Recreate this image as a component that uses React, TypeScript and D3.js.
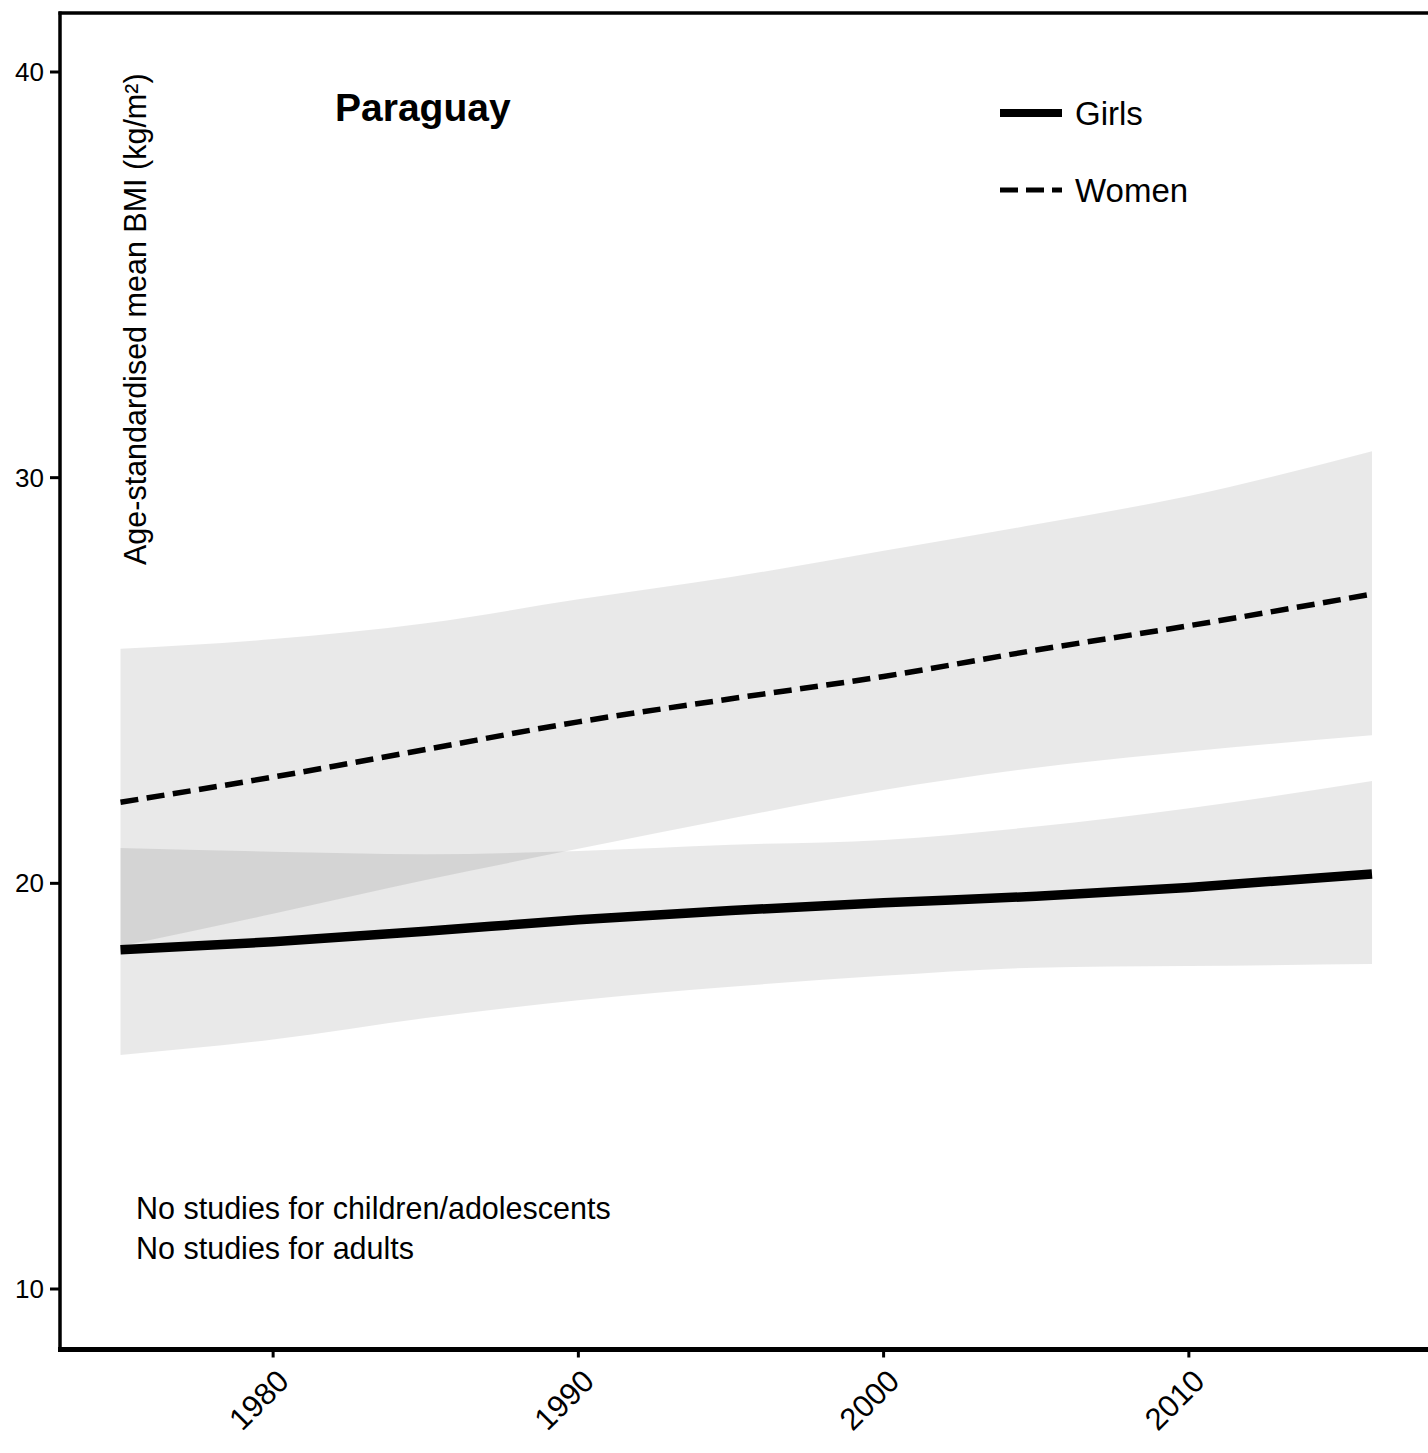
import React from "react";
import * as d3 from "d3";

const years = [1975, 1980, 1985, 1990, 1995, 2000, 2005, 2010, 2016];
const womenMean = [22.0, 22.62, 23.3, 23.98, 24.55, 25.1, 25.75, 26.35, 27.13];
const womenUpper = [25.78, 26.02, 26.41, 27.0, 27.55, 28.2, 28.85, 29.55, 30.65];
const womenLower = [18.45, 19.25, 20.08, 20.85, 21.6, 22.3, 22.85, 23.25, 23.65];
const girlsMean = [18.36, 18.56, 18.82, 19.1, 19.33, 19.52, 19.68, 19.9, 20.23];
const girlsUpper = [20.87, 20.78, 20.72, 20.8, 20.95, 21.07, 21.4, 21.85, 22.52];
const girlsLower = [15.77, 16.15, 16.68, 17.12, 17.45, 17.72, 17.92, 17.96, 18.01];
const yTicks = [10, 20, 30, 40];
const xTicks = [1980, 1990, 2000, 2010];
const notes = ["No studies for children/adolescents", "No studies for adults"];
const title = "Paraguay";
const yLabel = "Age-standardised mean BMI (kg/m²)";
const legendItems = [
  { label: "Girls", dash: "none", width: 8 },
  { label: "Women", dash: "18,8", width: 5 },
];

const W = 1428;
const H = 1453;
const FONT = "'Liberation Sans', Arial, Helvetica, sans-serif";

export default function App() {
  const x = d3.scaleLinear().domain([1975, 2016]).range([120.5, 1372]);
  const y = d3.scaleLinear().domain([10, 40]).range([1289, 72]);
  const left = 60;
  const top = 13;
  const bottom = 1349.5;

  const band = (lo: number[], hi: number[]) =>
    d3
      .area<number>()
      .x((i) => x(years[i]))
      .y0((i) => y(lo[i]))
      .y1((i) => y(hi[i]))
      .curve(d3.curveMonotoneX)(years.map((_, i) => i)) as string;
  const line = (vals: number[]) =>
    d3
      .line<number>()
      .x((_, i) => x(years[i]))
      .y((d) => y(d))
      .curve(d3.curveMonotoneX)(vals) as string;

  return (
    <svg
      width={W}
      height={H}
      style={{ position: "absolute", left: 0, top: 0, background: "#fff" }}
      fontFamily={FONT}
    >
      <rect x={0} y={0} width={W} height={H} fill="#fff" />
      {/* bands */}
      <path d={band(womenLower, womenUpper)} fill="#000" fillOpacity={0.085} />
      <path d={band(girlsLower, girlsUpper)} fill="#000" fillOpacity={0.085} />
      {/* lines */}
      <path d={line(womenMean)} fill="none" stroke="#000" strokeWidth={5.5} strokeDasharray="18,8.5" />
      <path d={line(girlsMean)} fill="none" stroke="#000" strokeWidth={9.5} />

      {/* frame */}
      <line x1={left} x2={left} y1={top - 1.5} y2={bottom} stroke="#000" strokeWidth={3.5} />
      <line x1={left - 1.5} x2={W} y1={top} y2={top} stroke="#000" strokeWidth={3.5} />
      <line x1={left - 2} x2={W} y1={bottom} y2={bottom} stroke="#000" strokeWidth={5} />

      {/* y ticks */}
      {yTicks.map((t) => (
        <g key={t}>
          <line x1={50} x2={left} y1={y(t)} y2={y(t)} stroke="#000" strokeWidth={3} />
          <text x={44} y={y(t)} dy="0.35em" textAnchor="end" fontSize={26} fill="#000">
            {t}
          </text>
        </g>
      ))}
      {/* x ticks */}
      {xTicks.map((t) => (
        <g key={t}>
          <line x1={x(t)} x2={x(t)} y1={bottom} y2={bottom + 8} stroke="#000" strokeWidth={3} />
          <text
            transform={`translate(${x(t) + 10},${bottom + 26}) rotate(-45)`}
            textAnchor="end"
            dy="0.35em"
            fontSize={31}
            fill="#000"
          >
            {t}
          </text>
        </g>
      ))}

      {/* y label */}
      <text
        transform={`translate(146,565) rotate(-90)`}
        textAnchor="start"
        fontSize={30.5}
        fill="#000"
      >
        {yLabel}
      </text>

      {/* title */}
      <text x={335} y={121} fontSize={39} fontWeight="bold" fill="#000">
        {title}
      </text>

      {/* legend */}
      {legendItems.map((it, i) => {
        const ly = 113 + i * 77;
        return (
          <g key={it.label}>
            <line
              x1={1000}
              x2={1062}
              y1={ly}
              y2={ly}
              stroke="#000"
              strokeWidth={it.width}
              strokeDasharray={it.dash}
            />
            <text x={1075} y={ly} dy="0.35em" fontSize={33} fill="#000">
              {it.label}
            </text>
          </g>
        );
      })}

      {/* notes */}
      {notes.map((n, i) => (
        <text key={n} x={136} y={1219 + i * 40} fontSize={30.5} fill="#000">
          {n}
        </text>
      ))}
    </svg>
  );
}
